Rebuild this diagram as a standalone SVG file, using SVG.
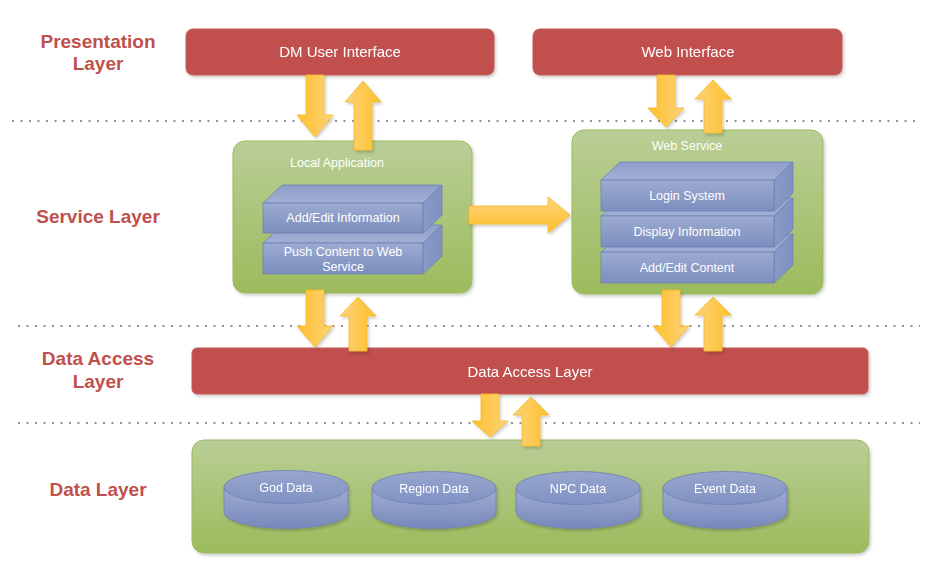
<svg xmlns="http://www.w3.org/2000/svg" width="935" height="567" viewBox="0 0 935 567">
<defs>
<linearGradient id="gGreen" x1="0" y1="0" x2="0" y2="1"><stop offset="0" stop-color="#B9CE96"/><stop offset="1" stop-color="#9CBB5C"/></linearGradient>
<linearGradient id="gFront" x1="0" y1="0" x2="0" y2="1"><stop offset="0" stop-color="#9DABD1"/><stop offset="1" stop-color="#7C8EBE"/></linearGradient>
<linearGradient id="gTop" x1="0" y1="0" x2="0" y2="1"><stop offset="0" stop-color="#8E9DC9"/><stop offset="1" stop-color="#A3B0D5"/></linearGradient>
<linearGradient id="gSide" x1="0" y1="0" x2="1" y2="0"><stop offset="0" stop-color="#8A9AC7"/><stop offset="1" stop-color="#8090C0"/></linearGradient>
<linearGradient id="gCylBody" x1="0" y1="0" x2="0" y2="1"><stop offset="0" stop-color="#A0ADD2"/><stop offset="1" stop-color="#7788BB"/></linearGradient>
<linearGradient id="gCylTop" x1="0" y1="0" x2="0" y2="1"><stop offset="0" stop-color="#97A6CE"/><stop offset="1" stop-color="#8192C2"/></linearGradient>
<linearGradient id="gDown" x1="1" y1="0" x2="0" y2="0"><stop offset="0" stop-color="#FDD27C"/><stop offset="1" stop-color="#FFC02A"/></linearGradient>
<linearGradient id="gUp" x1="0" y1="0" x2="1" y2="0"><stop offset="0" stop-color="#FDD27C"/><stop offset="1" stop-color="#FFC02A"/></linearGradient>
<linearGradient id="gRight" x1="0" y1="0" x2="0" y2="1"><stop offset="0" stop-color="#FDD27C"/><stop offset="1" stop-color="#FFC02A"/></linearGradient>
<filter id="sh" x="-10%" y="-10%" width="120%" height="130%"><feDropShadow dx="1.5" dy="2" stdDeviation="1.5" flood-color="#000" flood-opacity="0.2"/></filter>
</defs>
<style>
.lbl{font-family:"Liberation Sans",Arial,sans-serif;font-weight:bold;font-size:19px;fill:#C0504D;text-anchor:middle}
.red{fill:#C0504D;stroke:#C65A57;stroke-width:1}
.grn{fill:url(#gGreen);stroke:#9BBB59;stroke-width:1}
.wt{font-family:"Liberation Sans",Arial,sans-serif;fill:#FFFFFF;text-anchor:middle}
.t15{font-size:15px}
.t12{font-size:12.5px}
.front{fill:url(#gFront);stroke:#6E81B5;stroke-width:0.8}
.top{fill:url(#gTop);stroke:#6E81B5;stroke-width:0.8}
.side{fill:url(#gSide);stroke:#6E81B5;stroke-width:0.8}
.cb{fill:url(#gCylBody);stroke:#6E81B5;stroke-width:0.8}
.ct{fill:url(#gCylTop);stroke:#6E81B5;stroke-width:0.8}
.dot{stroke:#222;stroke-width:1.2;stroke-dasharray:2 6.5;fill:none}
.ad{fill:url(#gDown);stroke:#F5B820;stroke-width:0.8}
.au{fill:url(#gUp);stroke:#F5B820;stroke-width:0.8}
.ar{fill:url(#gRight);stroke:#F5B820;stroke-width:0.8}
</style>
<rect width="935" height="567" fill="#FFFFFF"/>

<g id="separators">
<line class="dot" x1="12" y1="121" x2="920" y2="121"/>
<line class="dot" x1="18" y1="326" x2="920" y2="326"/>
<line class="dot" x1="18" y1="423" x2="920" y2="423"/>
</g>

<g id="layer-labels">
<text class="lbl" x="98" y="48">Presentation</text>
<text class="lbl" x="98" y="70">Layer</text>
<text class="lbl" x="98" y="223">Service Layer</text>
<text class="lbl" x="98" y="365">Data Access</text>
<text class="lbl" x="98" y="388">Layer</text>
<text class="lbl" x="98" y="496">Data Layer</text>
</g>

<g id="dm-user-interface" filter="url(#sh)">
<rect class="red" x="186" y="29" width="308" height="46" rx="7"/>
<text class="wt t15" x="340" y="57">DM User Interface</text>
</g>

<g id="web-interface" filter="url(#sh)">
<rect class="red" x="533" y="29" width="309" height="46" rx="7"/>
<text class="wt t15" x="688" y="57">Web Interface</text>
</g>

<g id="local-application">
<rect class="grn" x="233" y="141" width="239" height="152" rx="12" filter="url(#sh)"/>
<text class="wt t12" x="337" y="167">Local Application</text>
<g id="push-content">
<polygon class="top" points="263,243 282,225 442,225 423,243"/>
<polygon class="side" points="423,243 442,225 442,256 423,274"/>
<rect class="front" x="263" y="243" width="160" height="31"/>
<text class="wt t12" x="343" y="256">Push Content to Web</text>
<text class="wt t12" x="343" y="271">Service</text>
</g>
<g id="add-edit-information">
<polygon class="top" points="263,203 282,185 442,185 423,203"/>
<polygon class="side" points="423,203 442,185 442,215 423,233"/>
<rect class="front" x="263" y="203" width="160" height="30"/>
<text class="wt t12" x="343" y="222">Add/Edit Information</text>
</g>
</g>

<g id="web-service">
<rect class="grn" x="572" y="130" width="251" height="164" rx="12" filter="url(#sh)"/>
<text class="wt t12" x="687" y="150">Web Service</text>
<g id="add-edit-content">
<polygon class="top" points="601,252 620,234 793,234 774,252"/>
<polygon class="side" points="774,252 793,234 793,265 774,283"/>
<rect class="front" x="601" y="252" width="173" height="31"/>
<text class="wt t12" x="687" y="272">Add/Edit Content</text>
</g>
<g id="display-information">
<polygon class="top" points="601,216 620,198 793,198 774,216"/>
<polygon class="side" points="774,216 793,198 793,229 774,247"/>
<rect class="front" x="601" y="216" width="173" height="31"/>
<text class="wt t12" x="687" y="236">Display Information</text>
</g>
<g id="login-system">
<polygon class="top" points="601,180 620,162 793,162 774,180"/>
<polygon class="side" points="774,180 793,162 793,193 774,211"/>
<rect class="front" x="601" y="180" width="173" height="31"/>
<text class="wt t12" x="687" y="200">Login System</text>
</g>
</g>

<g id="data-access-layer" filter="url(#sh)">
<rect class="red" x="192" y="348" width="676" height="46" rx="5"/>
<text class="wt t15" x="530" y="377">Data Access Layer</text>
</g>

<g id="data-layer">
<rect class="grn" x="192" y="440" width="677" height="113" rx="12" filter="url(#sh)"/>
<g id="god-data" filter="url(#sh)">
<path class="cb" d="M224,487 L224,512 A62,16.5 0 0 0 348,512 L348,487 Z"/>
<ellipse class="ct" cx="286" cy="487" rx="62" ry="16.5"/>
<text class="wt t12" x="286" y="492">God Data</text>
</g>
<g id="region-data" filter="url(#sh)">
<path class="cb" d="M372,488 L372,512 A62,16.5 0 0 0 496,512 L496,488 Z"/>
<ellipse class="ct" cx="434" cy="488" rx="62" ry="16.5"/>
<text class="wt t12" x="434" y="493">Region Data</text>
</g>
<g id="npc-data" filter="url(#sh)">
<path class="cb" d="M516,488 L516,512 A62,16.5 0 0 0 640,512 L640,488 Z"/>
<ellipse class="ct" cx="578" cy="488" rx="62" ry="16.5"/>
<text class="wt t12" x="578" y="493">NPC Data</text>
</g>
<g id="event-data" filter="url(#sh)">
<path class="cb" d="M663,488 L663,512 A62,16.5 0 0 0 787,512 L787,488 Z"/>
<ellipse class="ct" cx="725" cy="488" rx="62" ry="16.5"/>
<text class="wt t12" x="725" y="493">Event Data</text>
</g>
</g>

<g id="connectors" filter="url(#sh)">
<polygon class="ad" points="306,75 324,75 324,115 333,115 315,137 297,115 306,115"/>
<polygon class="au" points="354,150 372,150 372,102 381,102 363,81 345,102 354,102"/>
<polygon class="ad" points="657,75 675,75 675,108 684,108 666,127 648,108 657,108"/>
<polygon class="au" points="704,133 722,133 722,99 731,99 713,80 695,99 704,99"/>
<polygon class="ar" points="469,206 548,206 548,197 570,215 548,233 548,224 469,224"/>
<polygon class="ad" points="306,290 324,290 324,326 333,326 315,347 297,326 306,326"/>
<polygon class="au" points="349,351 367,351 367,316 376,316 358,297 340,316 349,316"/>
<polygon class="ad" points="662,290 680,290 680,326 689,326 671,347 653,326 662,326"/>
<polygon class="au" points="704,351 722,351 722,315 731,315 713,297 695,315 704,315"/>
<polygon class="ad" points="481,394 499,394 499,421 508,421 490,437 472,421 481,421"/>
<polygon class="au" points="522,446 540,446 540,415 549,415 531,397 513,415 522,415"/>
</g>
</svg>
